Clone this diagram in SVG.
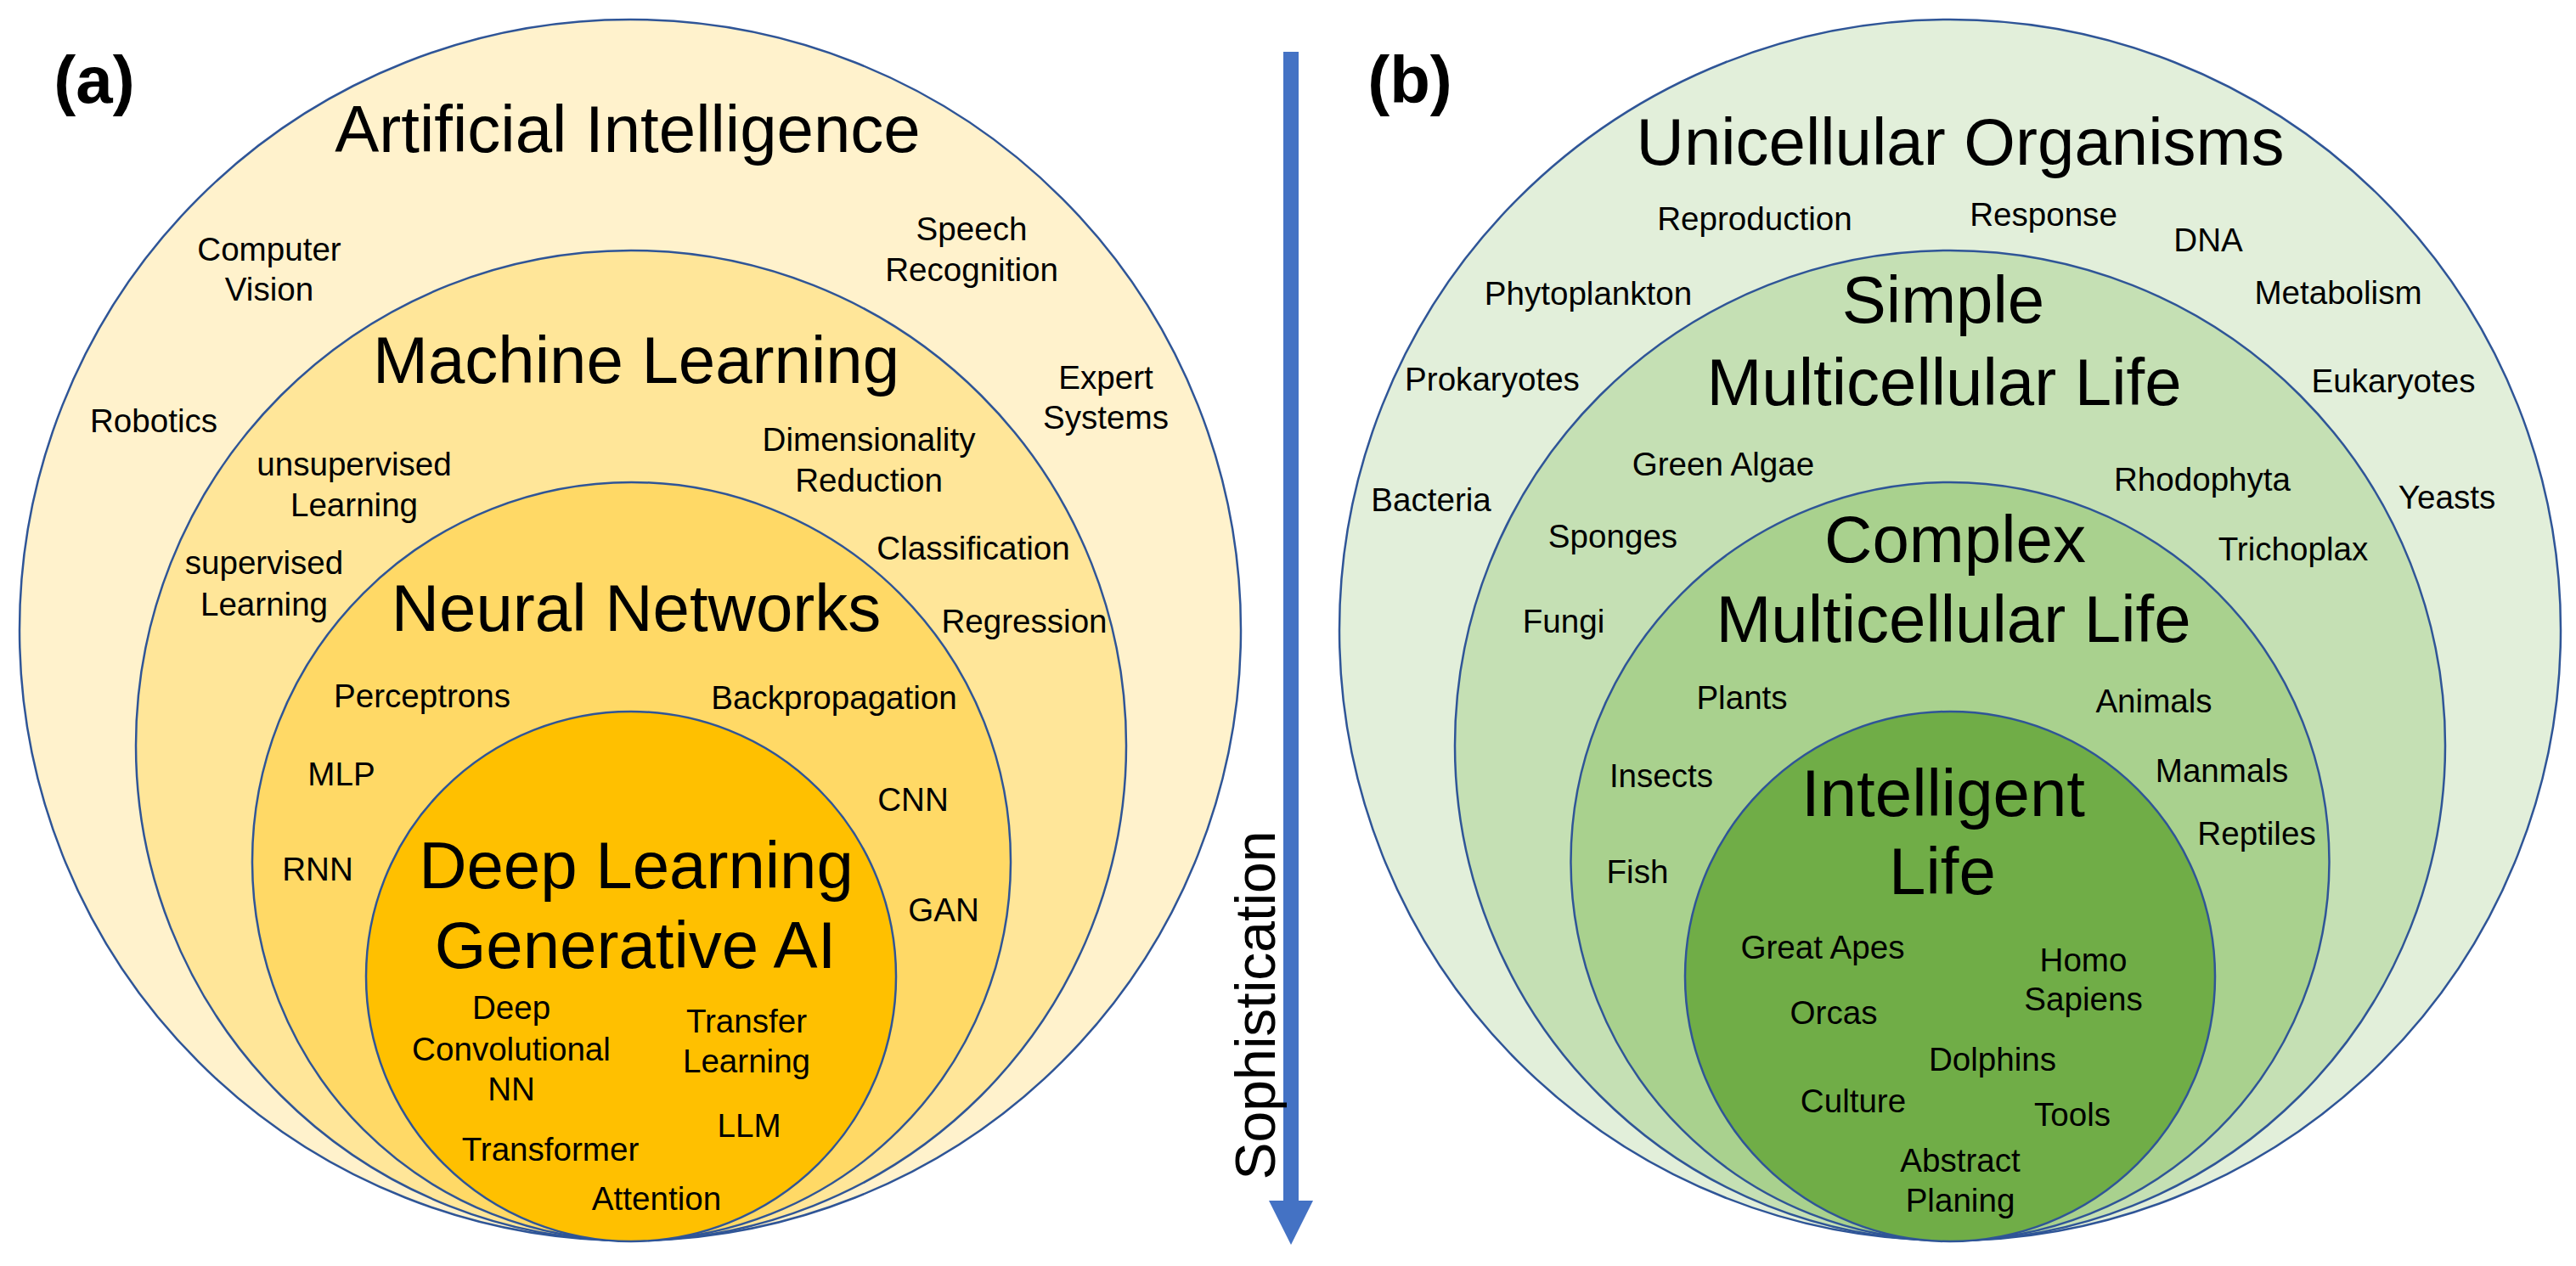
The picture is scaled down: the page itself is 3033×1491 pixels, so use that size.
<svg xmlns="http://www.w3.org/2000/svg" width="3033" height="1491" viewBox="0 0 3033 1491">
<style>
text{font-family:"Liberation Sans",Arial,sans-serif;fill:#000;text-anchor:middle}
.big{font-size:78px}
.sm{font-size:38.6px}
.lab{font-size:78px;font-weight:bold}
circle{stroke:#2F5597;stroke-width:2.5}
.a1{fill:#FFF2CC}.a2{fill:#FFE699}.a3{fill:#FFD966}.a4{fill:#FFC000}
.b1{fill:#E2EFDA}.b2{fill:#C5E0B4}.b3{fill:#A9D18E}.b4{fill:#70AD47}
</style>
<rect width="3033" height="1491" fill="#fff"/>
<g id="panel-a">
<text class="lab" x="111" y="121">(a)</text>
<g id="ai">
<circle class="a1" cx="742" cy="742" r="719"/>
<text class="big" x="739" y="179">Artificial Intelligence</text>
<text class="sm" x="317" y="307">Computer</text>
<text class="sm" x="317" y="354">Vision</text>
<text class="sm" x="181" y="509">Robotics</text>
<text class="sm" x="1144" y="283">Speech</text>
<text class="sm" x="1144" y="331">Recognition</text>
<text class="sm" x="1302" y="458">Expert</text>
<text class="sm" x="1302" y="505">Systems</text>
</g>
<g id="ml">
<circle class="a2" cx="743" cy="878" r="583"/>
<text class="big" x="749" y="451">Machine Learning</text>
<text class="sm" x="417" y="560">unsupervised</text>
<text class="sm" x="417" y="608">Learning</text>
<text class="sm" x="311" y="676">supervised</text>
<text class="sm" x="311" y="725">Learning</text>
<text class="sm" x="1023" y="531">Dimensionality</text>
<text class="sm" x="1023" y="579">Reduction</text>
<text class="sm" x="1146" y="659">Classification</text>
<text class="sm" x="1206" y="745">Regression</text>
</g>
<g id="nn">
<circle class="a3" cx="743.5" cy="1014.5" r="446.5"/>
<text class="big" x="749" y="743">Neural Networks</text>
<text class="sm" x="497" y="833">Perceptrons</text>
<text class="sm" x="402" y="925">MLP</text>
<text class="sm" x="374" y="1037">RNN</text>
<text class="sm" x="982" y="835">Backpropagation</text>
<text class="sm" x="1075" y="955">CNN</text>
<text class="sm" x="1111" y="1085">GAN</text>
</g>
<g id="dl">
<circle class="a4" cx="743" cy="1150" r="312"/>
<text class="big" x="749" y="1046">Deep Learning</text>
<text class="big" x="748" y="1140">Generative AI</text>
<text class="sm" x="602" y="1200">Deep</text>
<text class="sm" x="602" y="1249">Convolutional</text>
<text class="sm" x="602" y="1296">NN</text>
<text class="sm" x="879" y="1216">Transfer</text>
<text class="sm" x="879" y="1263">Learning</text>
<text class="sm" x="882" y="1339">LLM</text>
<text class="sm" x="648" y="1367">Transformer</text>
<text class="sm" x="773" y="1425">Attention</text>
</g>
</g>
<g id="connectors">
<g id="sophistication-arrow">
<polygon points="1511,61 1529,61 1529,1414 1546,1414 1520,1466 1494,1414 1511,1414" fill="#4472C4"/>
<text class="sm" style="font-size:66px" transform="translate(1501,1184) rotate(-90)">Sophistication</text>
</g>
</g>
<g id="panel-b">
<text class="lab" x="1660" y="121">(b)</text>
<g id="unicellular">
<circle class="b1" cx="2296" cy="742" r="719"/>
<text class="big" x="2308" y="194">Unicellular Organisms</text>
<text class="sm" x="2066" y="271">Reproduction</text>
<text class="sm" x="2406" y="266">Response</text>
<text class="sm" x="2600" y="296">DNA</text>
<text class="sm" x="1870" y="359">Phytoplankton</text>
<text class="sm" x="2753" y="358">Metabolism</text>
<text class="sm" x="1757" y="460">Prokaryotes</text>
<text class="sm" x="2818" y="462">Eukaryotes</text>
<text class="sm" x="1685" y="602">Bacteria</text>
<text class="sm" x="2881" y="599">Yeasts</text>
</g>
<g id="simple">
<circle class="b2" cx="2296" cy="878" r="583"/>
<text class="big" x="2288" y="380">Simple</text>
<text class="big" x="2289" y="477">Multicellular Life</text>
<text class="sm" x="2029" y="560">Green Algae</text>
<text class="sm" x="2593" y="578">Rhodophyta</text>
<text class="sm" x="1899" y="645">Sponges</text>
<text class="sm" x="2700" y="660">Trichoplax</text>
<text class="sm" x="1841" y="745">Fungi</text>
</g>
<g id="complex">
<circle class="b3" cx="2296" cy="1014.5" r="446.5"/>
<text class="big" x="2302" y="662">Complex</text>
<text class="big" x="2300" y="756">Multicellular Life</text>
<text class="sm" x="2051" y="835">Plants</text>
<text class="sm" x="2536" y="839">Animals</text>
<text class="sm" x="1956" y="927">Insects</text>
<text class="sm" x="2616" y="921">Manmals</text>
<text class="sm" x="1928" y="1040">Fish</text>
<text class="sm" x="2657" y="995">Reptiles</text>
</g>
<g id="intelligent">
<circle class="b4" cx="2296" cy="1150" r="312"/>
<text class="big" x="2288" y="961">Intelligent</text>
<text class="big" x="2287" y="1053">Life</text>
<text class="sm" x="2146" y="1129">Great Apes</text>
<text class="sm" x="2453" y="1144">Homo</text>
<text class="sm" x="2453" y="1190">Sapiens</text>
<text class="sm" x="2159" y="1206">Orcas</text>
<text class="sm" x="2346" y="1261">Dolphins</text>
<text class="sm" x="2182" y="1310">Culture</text>
<text class="sm" x="2440" y="1326">Tools</text>
<text class="sm" x="2308" y="1380">Abstract</text>
<text class="sm" x="2308" y="1427">Planing</text>
</g>
</g>
</svg>
